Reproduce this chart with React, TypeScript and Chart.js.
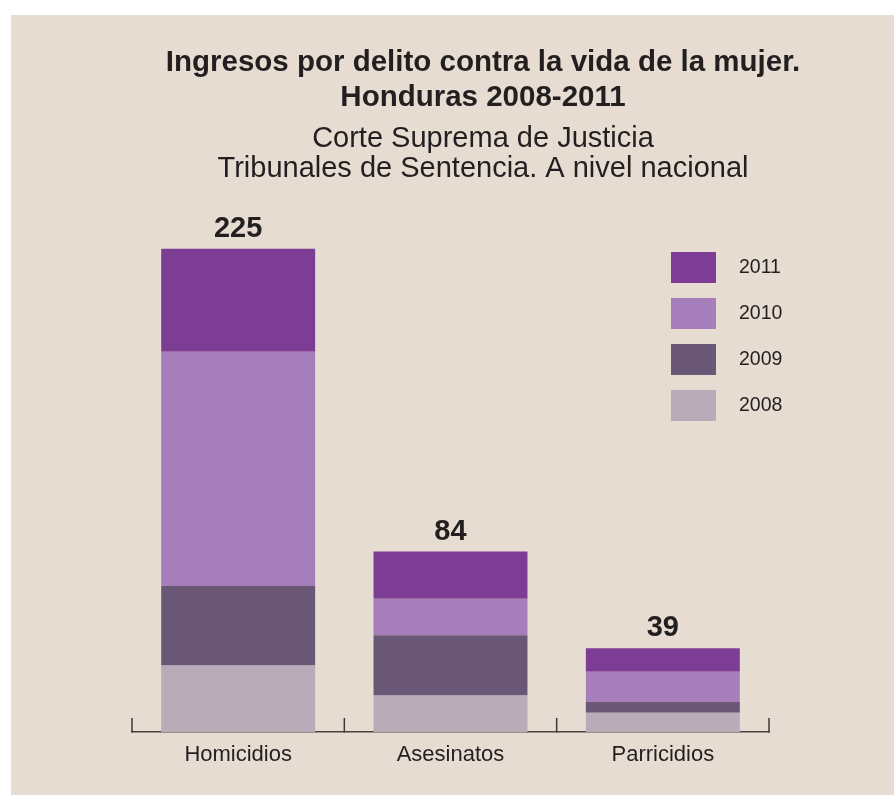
import React, { useEffect, useRef } from "react";
import { Chart, registerables } from "chart.js";

Chart.register(...registerables);

const categories = ["Homicidios", "Asesinatos", "Parricidios"];
const years = ["2008", "2009", "2010", "2011"];
const values2008 = [31, 17, 9];
const values2009 = [37, 28, 5];
const values2010 = [109, 17, 14];
const values2011 = [48, 22, 11];
const yearColors = ["#b8acb9", "#6a5775", "#a67fba", "#7e3d95"];
const titleLines = ["Ingresos por delito contra la vida de la mujer.", "Honduras 2008-2011"];
const subtitleLines = ["Corte Suprema de Justicia", "Tribunales de Sentencia. A nivel nacional"];

const FONT = '"Liberation Sans", Arial, Helvetica, sans-serif';
const TEXT = "#231f20";

const totalsPlugin = {
  id: "totals",
  afterDatasetsDraw(chart: any) {
    const ctx = chart.ctx;
    const n = chart.data.labels.length;
    const last = chart.getDatasetMeta(chart.data.datasets.length - 1);
    ctx.save();
    ctx.font = `bold 29px ${FONT}`;
    ctx.fillStyle = TEXT;
    ctx.textAlign = "center";
    ctx.textBaseline = "alphabetic";
    for (let i = 0; i < n; i++) {
      let total = 0;
      chart.data.datasets.forEach((ds: any) => (total += ds.data[i]));
      const el = last.data[i];
      ctx.fillText(String(total), el.x, el.y - 12);
    }
    ctx.restore();
  },
};

const axisTicksPlugin = {
  id: "axisTicks",
  afterDraw(chart: any) {
    const ctx = chart.ctx;
    const ca = chart.chartArea;
    const xs = chart.scales.x;
    const n = chart.data.labels.length;
    const pos: number[] = [ca.left];
    for (let i = 0; i < n - 1; i++) {
      pos.push((xs.getPixelForValue(i) + xs.getPixelForValue(i + 1)) / 2);
    }
    pos.push(ca.right);
    ctx.save();
    ctx.strokeStyle = "#3d3737";
    ctx.lineWidth = 1.5;
    pos.forEach((x) => {
      ctx.beginPath();
      ctx.moveTo(x, ca.bottom + 0.5);
      ctx.lineTo(x, ca.bottom - 14);
      ctx.stroke();
    });
    ctx.restore();
  },
};

const legendPlugin = {
  id: "customLegend",
  afterDraw(chart: any) {
    const ctx = chart.ctx;
    const ca = chart.chartArea;
    const dsets = chart.data.datasets;
    ctx.save();
    ctx.font = `19.5px ${FONT}`;
    ctx.textAlign = "left";
    ctx.textBaseline = "middle";
    for (let k = 0; k < dsets.length; k++) {
      const ds = dsets[dsets.length - 1 - k];
      const bx = ca.right - 98;
      const by = ca.top + 57 + k * 46;
      ctx.fillStyle = ds.backgroundColor;
      ctx.fillRect(bx, by, 45, 31);
      ctx.fillStyle = TEXT;
      ctx.fillText(ds.label, ca.right - 30, by + 16);
    }
    ctx.restore();
  },
};

export default function App() {
  const ref = useRef<HTMLCanvasElement>(null);
  useEffect(() => {
    if (!ref.current) return;
    const series = [values2008, values2009, values2010, values2011];
    const chart = new Chart(ref.current, {
      type: "bar",
      data: {
        labels: categories,
        datasets: years.map((y, i) => ({
          label: y,
          data: series[i],
          backgroundColor: yearColors[i],
          borderWidth: 0,
          categoryPercentage: 1,
          barPercentage: 0.725,
        })),
      },
      options: {
        responsive: false,
        animation: false,
        layout: { padding: { left: 121, right: 60, top: 0, bottom: 23 } },
        plugins: {
          legend: { display: false },
          tooltip: { enabled: false },
          title: {
            display: true,
            text: titleLines,
            color: TEXT,
            font: { family: FONT, size: 29.5, weight: "bold", lineHeight: 35 / 29.5 },
            padding: { top: 30, bottom: 0 },
          },
          subtitle: {
            display: true,
            text: subtitleLines,
            color: TEXT,
            font: { family: FONT, size: 29, weight: "normal", lineHeight: 30 / 29 },
            padding: { top: 9, bottom: 11 },
          },
        },
        scales: {
          x: {
            stacked: true,
            grid: { display: false, drawTicks: false },
            border: { display: true, color: "#4a4242", width: 1.5 },
            ticks: { color: TEXT, font: { family: FONT, size: 22 }, padding: 10 },
            afterFit: (s: any) => {
              s.height = 40;
            },
          },
          y: {
            stacked: true,
            position: "right",
            min: 0,
            max: 250,
            grid: { display: false, drawTicks: false },
            border: { display: false },
            ticks: { display: false },
            afterFit: (s: any) => {
              s.width = 65;
            },
          },
        },
      },
      plugins: [totalsPlugin, axisTicksPlugin, legendPlugin],
    });
    return () => chart.destroy();
  }, []);

  return (
    <div style={{ position: "fixed", left: 0, top: 0, width: 894, height: 795, background: "#ffffff" }}>
      <div style={{ position: "absolute", left: 11, top: 15, width: 883, height: 780, background: "#e6dcd1" }}>
        <canvas ref={ref} width={883} height={780} style={{ display: "block" }} />
      </div>
    </div>
  );
}
